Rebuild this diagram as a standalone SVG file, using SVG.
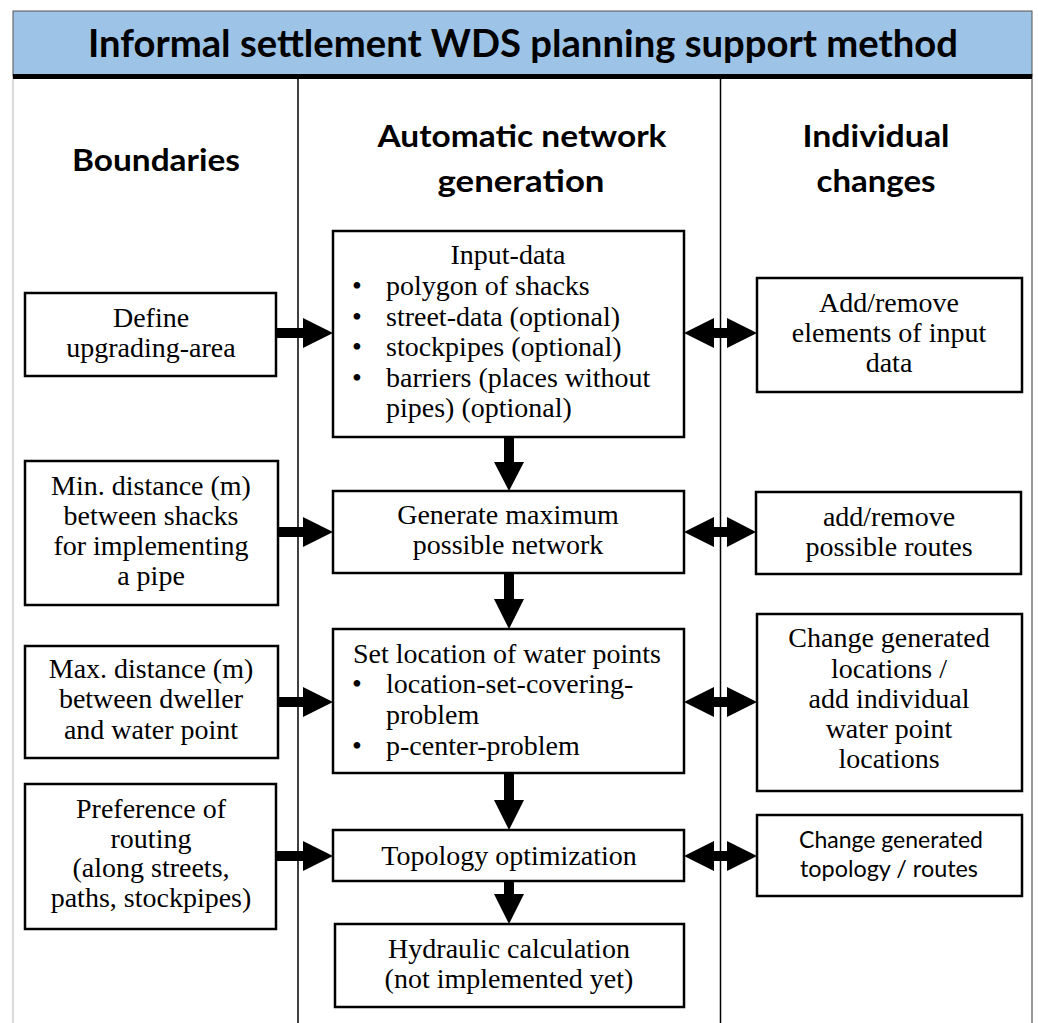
<svg xmlns="http://www.w3.org/2000/svg" width="1038" height="1023" viewBox="0 0 1038 1023">
<style>
.box{fill:#fff;stroke:#000;stroke-width:2.5}
.t{font-family:"Liberation Serif","DejaVu Serif",serif;font-size:28px;fill:#000}
.c{text-anchor:middle}
.h{font-family:Lato,"Liberation Sans",sans-serif;font-weight:bold;fill:#000;text-anchor:middle}
.s{font-family:Lato,"Liberation Sans",sans-serif;font-size:24px;fill:#000;text-anchor:middle}
.arr{fill:#000}
</style>
<rect width="1038" height="1023" fill="#fff"/>
<g id="frame">
<line x1="13" y1="74" x2="13" y2="1023" stroke="#cfcfcf" stroke-width="1.5"/>
<line x1="1032" y1="74" x2="1032" y2="1023" stroke="#777" stroke-width="1.5"/>
<line x1="298" y1="79" x2="298" y2="1023" stroke="#000" stroke-width="1.5"/>
<line x1="720.5" y1="79" x2="720.5" y2="1023" stroke="#000" stroke-width="1.5"/>
</g>
<g id="title">
<rect x="13" y="11" width="1019" height="65" fill="#9dc3e6" stroke="#555" stroke-width="1"/>
<rect x="13" y="74" width="1019" height="5" fill="#000"/>
<text class="h" x="523" y="57" font-size="38" textLength="870" lengthAdjust="spacingAndGlyphs">Informal settlement WDS planning support method</text>
</g>
<g id="headers">
<text class="h" x="156" y="171" font-size="31" textLength="168" lengthAdjust="spacingAndGlyphs">Boundaries</text>
<text class="h" x="522" y="147" font-size="31" textLength="289" lengthAdjust="spacingAndGlyphs">Automatic network</text>
<text class="h" x="521" y="192" font-size="31" textLength="167" lengthAdjust="spacingAndGlyphs">generation</text>
<text class="h" x="876" y="147" font-size="31" textLength="147" lengthAdjust="spacingAndGlyphs">Individual</text>
<text class="h" x="876" y="192" font-size="31" textLength="119" lengthAdjust="spacingAndGlyphs">changes</text>
</g>
<g id="connectors">
<path class="arr" d="M276,328 H303 V318 L333,333 L303,348 V338 H276 Z"/>
<path class="arr" d="M278,527 H303 V517 L333,532 L303,547 V537 H278 Z"/>
<path class="arr" d="M278,697 H303 V687 L333,702 L303,717 V707 H278 Z"/>
<path class="arr" d="M276,851 H303 V841 L333,856 L303,871 V861 H276 Z"/>
<path class="arr" d="M684,333 L714,318 V328 H727 V318 L757,333 L727,348 V338 H714 V348 Z"/>
<path class="arr" d="M684,532 L714,517 V527 H727 V517 L756,532 L727,547 V537 H714 V547 Z"/>
<path class="arr" d="M684,702 L714,687 V697 H727 V687 L757,702 L727,717 V707 H714 V717 Z"/>
<path class="arr" d="M684,856 L714,841 V851 H727 V841 L757,856 L727,871 V861 H714 V871 Z"/>
<path class="arr" d="M504,437 H514 V462 H524 L509,491 L494,462 H504 Z"/>
<path class="arr" d="M504,573 H514 V599 H524 L509,629 L494,599 H504 Z"/>
<path class="arr" d="M504,773 H514 V800 H524 L509,830 L494,800 H504 Z"/>
<path class="arr" d="M504,881 H514 V894 H524 L509,924 L494,894 H504 Z"/>
</g>
<g id="define-area">
<rect class="box" x="25" y="293" width="251" height="83"/>
<text class="t c" x="151" y="327">Define</text>
<text class="t c" x="151" y="357">upgrading-area</text>
</g>
<g id="min-distance">
<rect class="box" x="25" y="461" width="253" height="144"/>
<text class="t c" x="151" y="495">Min. distance (m)</text>
<text class="t c" x="151" y="525">between shacks</text>
<text class="t c" x="151" y="555">for implementing</text>
<text class="t c" x="151" y="585">a pipe</text>
</g>
<g id="max-distance">
<rect class="box" x="25" y="646" width="253" height="112"/>
<text class="t c" x="151" y="678">Max. distance (m)</text>
<text class="t c" x="151" y="708">between dweller</text>
<text class="t c" x="151" y="739">and water point</text>
</g>
<g id="routing-preference">
<rect class="box" x="25" y="784" width="251" height="145"/>
<text class="t c" x="151" y="818">Preference of</text>
<text class="t c" x="151" y="848">routing</text>
<text class="t c" x="151" y="877">(along streets,</text>
<text class="t c" x="151" y="907">paths, stockpipes)</text>
</g>
<g id="input-data">
<rect class="box" x="333" y="231" width="351" height="206"/>
<text class="t c" x="508" y="264">Input-data</text>
<text class="t" x="352" y="295">•</text><text class="t" x="386" y="295">polygon of shacks</text>
<text class="t" x="352" y="326">•</text><text class="t" x="386" y="326">street-data (optional)</text>
<text class="t" x="352" y="356">•</text><text class="t" x="386" y="356">stockpipes (optional)</text>
<text class="t" x="352" y="387">•</text><text class="t" x="386" y="387">barriers (places without</text>
<text class="t" x="386" y="417">pipes) (optional)</text>
</g>
<g id="generate-network">
<rect class="box" x="333" y="491" width="351" height="82"/>
<text class="t c" x="508" y="524">Generate maximum</text>
<text class="t c" x="508" y="554">possible network</text>
</g>
<g id="water-points">
<rect class="box" x="333" y="629" width="351" height="144"/>
<text class="t" x="353" y="663">Set location of water points</text>
<text class="t" x="352" y="693">•</text><text class="t" x="386" y="693">location-set-covering-</text>
<text class="t" x="386" y="724">problem</text>
<text class="t" x="352" y="755">•</text><text class="t" x="386" y="755">p-center-problem</text>
</g>
<g id="topology">
<rect class="box" x="333" y="830" width="351" height="51"/>
<text class="t c" x="509" y="865">Topology optimization</text>
</g>
<g id="hydraulic">
<rect class="box" x="335" y="924" width="349" height="83"/>
<text class="t c" x="509" y="958">Hydraulic calculation</text>
<text class="t c" x="509" y="988">(not implemented yet)</text>
</g>
<g id="edit-input">
<rect class="box" x="757" y="278" width="265" height="114"/>
<text class="t c" x="889" y="312">Add/remove</text>
<text class="t c" x="889" y="342">elements of input</text>
<text class="t c" x="889" y="372">data</text>
</g>
<g id="edit-routes">
<rect class="box" x="756" y="492" width="265" height="82"/>
<text class="t c" x="889" y="526">add/remove</text>
<text class="t c" x="889" y="556">possible routes</text>
</g>
<g id="edit-locations">
<rect class="box" x="757" y="614" width="265" height="177"/>
<text class="t c" x="889" y="647">Change generated</text>
<text class="t c" x="889" y="678">locations /</text>
<text class="t c" x="889" y="708">add individual</text>
<text class="t c" x="889" y="738">water point</text>
<text class="t c" x="889" y="768">locations</text>
</g>
<g id="edit-topology">
<rect class="box" x="757" y="815" width="265" height="81"/>
<text class="s" x="891" y="848" textLength="184" lengthAdjust="spacingAndGlyphs">Change generated</text>
<text class="s" x="889" y="877" textLength="178" lengthAdjust="spacingAndGlyphs">topology / routes</text>
</g>
</svg>
